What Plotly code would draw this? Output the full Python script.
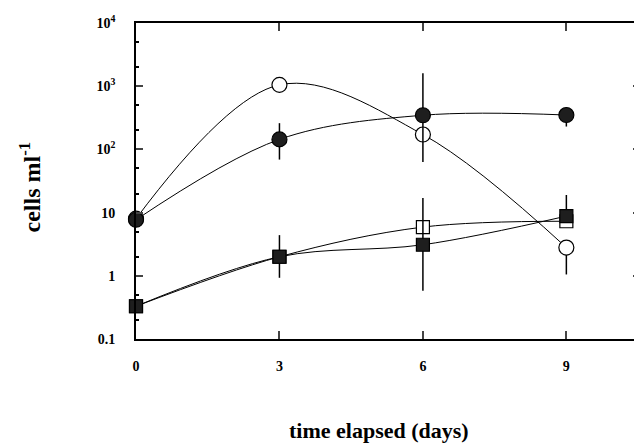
import plotly.graph_objects as go

days = [0, 3, 6, 9]

open_circle = [8, 1050, 172, 2.8]
open_circle_hi = [8, 1150, 190, 3.3]
open_circle_lo = [8, 950, 155, 1.05]

filled_circle = [7.7, 144, 347, 350]
filled_circle_hi = [7.7, 260, 1600, 460]
filled_circle_lo = [7.7, 69, 63, 230]

open_square = [0.33, 2.0, 5.9, 7.3]
open_square_hi = [0.33, 2.0, 5.9, 7.3]
open_square_lo = [0.33, 2.0, 5.9, 7.3]

filled_square = [0.33, 2.0, 3.1, 8.8]
filled_square_hi = [0.33, 4.4, 17, 19]
filled_square_lo = [0.33, 0.93, 0.58, 8.8]

y_tickvals = [0.1, 1, 10, 100, 1000, 10000]
y_ticktext = ["0.1", "1", "10", "10<sup>2</sup>", "10<sup>3</sup>", "10<sup>4</sup>"]
x_tickvals = [0, 3, 6, 9]

fig = go.Figure()

def add_series(y, hi, lo, symbol, fill):
    fig.add_trace(go.Scatter(
        x=days, y=y, mode="lines+markers",
        line=dict(color="black", width=1, shape="spline", smoothing=1.0),
        marker=dict(symbol=symbol, size=15 if symbol == "circle" else 13,
                    color="#1e1e1e" if fill else "white",
                    line=dict(color="black", width=1.2)),
        error_y=dict(type="data", symmetric=False,
                     array=[h - v for h, v in zip(hi, y)],
                     arrayminus=[v - l for v, l in zip(y, lo)],
                     color="black", thickness=1.5, width=0),
        showlegend=False, cliponaxis=False,
    ))

add_series(open_circle, open_circle_hi, open_circle_lo, "circle", False)
add_series(open_square, open_square_hi, open_square_lo, "square", False)
add_series(filled_circle, filled_circle_hi, filled_circle_lo, "circle", True)
add_series(filled_square, filled_square_hi, filled_square_lo, "square", True)

serif = "Liberation Serif"

fig.update_layout(
    width=634, height=436,
    margin=dict(l=128, r=0, t=15, b=105),
    paper_bgcolor="white", plot_bgcolor="white",
    font=dict(family=serif, color="black"),
    xaxis=dict(range=[0, 10.54], tickvals=x_tickvals, ticks="inside", ticklen=8,
               tickwidth=1.5, showline=True, linewidth=1.8, linecolor="black",
               mirror="ticks", showgrid=False, zeroline=False,
               tickfont=dict(family=serif, size=14, weight="bold"),
               ticklabelstandoff=13),
    yaxis=dict(type="log", range=[-1, 4], tickvals=y_tickvals, ticktext=y_ticktext,
               ticks="inside", ticklen=7, tickwidth=1.5, showline=True,
               linewidth=1.8, linecolor="black", mirror="ticks", showgrid=False,
               zeroline=False,
               minor=dict(ticks="inside", ticklen=3, tickcolor="black", showgrid=False),
               tickfont=dict(family=serif, size=14, weight="bold"),
               ticklabelstandoff=16),
    annotations=[
        dict(text="time elapsed (days)", xref="paper", yref="paper",
             x=0.483, y=-0.288, xanchor="center", yanchor="middle", showarrow=False,
             font=dict(family=serif, size=22, weight="bold")),
        dict(text="cells ml<sup>-1</sup>", xref="paper", yref="paper",
             x=-0.21, y=0.48, xanchor="center", yanchor="middle", showarrow=False,
             textangle=-90, font=dict(family=serif, size=24, weight="bold")),
    ],
)

fig.write_html("out.html")
